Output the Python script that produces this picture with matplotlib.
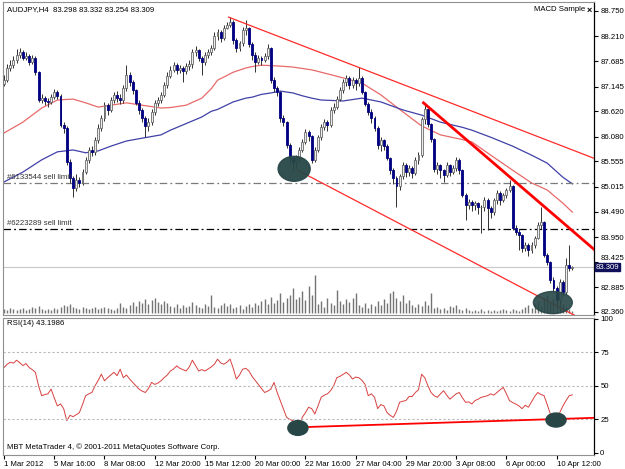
import matplotlib
matplotlib.use("Agg")
import matplotlib.pyplot as plt
import numpy as np
from matplotlib.patches import Ellipse

plt.rcParams['font.family'] = ['Liberation Sans', 'DejaVu Sans']

# ---- data ----
first_open = 87.20
closes = [
    87.28, 87.54, 87.60, 87.71, 87.82, 87.88, 87.75, 87.80, 87.67, 87.75,
    87.45, 86.86, 86.90, 86.84, 86.82, 86.92, 87.03, 86.95, 86.33, 86.27,
    85.54, 85.20, 84.99, 85.16, 85.10, 85.33, 85.59, 85.80, 85.76, 86.01,
    86.27, 86.48, 86.75, 86.65, 86.86, 86.97, 86.90, 86.86, 87.11, 87.39,
    87.24, 87.07, 86.80, 86.65, 86.48, 86.31, 86.39, 86.61, 86.80, 86.86,
    86.97, 87.18, 87.37, 87.50, 87.60, 87.50, 87.54, 87.48, 87.58, 87.62,
    87.88, 87.92, 87.75, 87.67, 87.82, 87.88, 87.96, 88.22, 88.30, 88.18,
    88.39, 88.45, 88.52, 88.13, 87.96, 88.07, 88.35, 88.39, 88.05, 87.82,
    87.67, 87.75, 87.71, 87.80, 87.96, 87.28, 87.11, 87.03, 86.48, 86.39,
    85.90, 85.63, 85.54, 85.63, 85.80, 85.97, 86.18, 86.10, 85.59, 85.80,
    86.07, 86.29, 86.39, 86.33, 86.65, 86.72, 86.89, 87.07, 87.24, 87.33,
    87.18, 87.28, 87.22, 87.33, 87.03, 86.78, 86.61, 86.48, 86.27, 85.90,
    86.01, 85.88, 85.63, 85.37, 85.20, 85.03, 85.24, 85.48, 85.33, 85.42,
    85.31, 85.59, 85.70, 86.45, 86.68, 86.35, 86.03, 85.40, 85.48, 85.37,
    85.27, 85.48, 85.33, 85.42, 85.59, 85.37, 84.84, 84.63, 84.70, 84.63,
    84.67, 84.58, 84.59, 84.74, 84.57, 84.48, 84.74, 84.89, 84.74, 84.84,
    84.95, 85.03, 84.14, 84.06, 83.99, 83.72, 83.78, 83.68, 83.78, 83.93,
    84.21, 84.27, 83.57, 83.42, 83.04, 82.87, 82.61, 83.00, 82.78, 83.36,
    83.298, 83.309,
]
highs = [
    87.40, 87.62, 87.70, 87.80, 87.95, 87.96, 87.92, 87.88, 87.84, 87.82,
    87.80, 87.48, 86.98, 86.95, 86.90, 86.98, 87.10, 87.08, 86.98, 86.40,
    86.30, 85.60, 85.25, 85.28, 85.22, 85.40, 85.66, 85.86, 85.88, 86.08,
    86.35, 86.55, 86.82, 86.80, 86.92, 87.02, 87.05, 86.98, 87.18, 87.60,
    87.45, 87.28, 87.10, 86.85, 86.70, 86.52, 86.48, 86.68, 86.86, 86.92,
    87.04, 87.24, 87.45, 87.58, 87.66, 87.64, 87.60, 87.58, 87.64, 87.70,
    87.95, 88.00, 87.94, 87.80, 87.88, 87.94, 88.02, 88.30, 88.36, 88.34,
    88.45, 88.52, 88.63, 88.55, 88.18, 88.12, 88.42, 88.55, 88.42, 88.10,
    87.88, 87.82, 87.80, 87.86, 88.05, 87.98, 87.35, 87.15, 87.05, 86.55,
    86.42, 85.95, 85.68, 85.70, 85.86, 86.03, 86.25, 86.22, 86.12, 85.86,
    86.12, 86.35, 86.45, 86.44, 86.72, 86.80, 86.95, 87.14, 87.30, 87.40,
    87.36, 87.34, 87.32, 87.56, 87.36, 87.05, 86.82, 86.66, 86.52, 86.30,
    86.08, 86.04, 85.92, 85.66, 85.42, 85.24, 85.30, 85.54, 85.52, 85.48,
    85.45, 85.64, 85.76, 86.50, 86.80, 86.70, 86.38, 86.05, 85.55, 85.50,
    85.40, 85.55, 85.50, 85.48, 85.64, 85.62, 85.40, 84.88, 84.76, 84.74,
    84.72, 84.70, 84.64, 84.80, 84.78, 84.60, 84.78, 84.94, 84.92, 84.88,
    85.00, 85.16, 85.06, 84.20, 84.12, 84.02, 83.84, 83.82, 83.84, 83.98,
    84.26, 84.59, 84.30, 83.62, 83.45, 83.10, 82.92, 83.05, 83.04, 83.50,
    83.78, 83.332,
]
lows = [
    87.15, 87.25, 87.48, 87.55, 87.65, 87.76, 87.70, 87.70, 87.60, 87.62,
    87.40, 86.82, 86.80, 86.75, 86.72, 86.78, 86.88, 86.88, 86.28, 86.15,
    85.48, 85.10, 84.80, 84.92, 85.02, 85.05, 85.28, 85.52, 85.68, 85.70,
    85.95, 86.20, 86.42, 86.55, 86.60, 86.80, 86.82, 86.78, 86.80, 87.05,
    87.15, 86.98, 86.75, 86.56, 86.40, 86.07, 86.20, 86.34, 86.55, 86.74,
    86.80, 86.92, 87.12, 87.32, 87.46, 87.42, 87.44, 87.25, 87.42, 87.50,
    87.55, 87.80, 87.68, 87.40, 87.60, 87.76, 87.82, 87.92, 88.14, 88.10,
    88.14, 88.36, 88.40, 88.05, 87.88, 87.90, 88.00, 88.25, 87.98, 87.72,
    87.45, 87.62, 87.60, 87.66, 87.74, 87.22, 87.02, 86.95, 86.40, 86.30,
    85.85, 85.50, 85.35, 85.42, 85.55, 85.76, 85.92, 85.98, 85.52, 85.55,
    85.76, 86.02, 86.22, 86.20, 86.28, 86.58, 86.66, 86.84, 87.00, 87.16,
    87.10, 87.12, 87.08, 87.15, 86.98, 86.74, 86.55, 86.38, 86.20, 85.82,
    85.78, 85.80, 85.58, 85.30, 85.08, 84.59, 84.95, 85.18, 85.22, 85.25,
    85.20, 85.26, 85.50, 85.65, 86.36, 86.28, 85.96, 85.34, 85.28, 85.20,
    85.12, 85.22, 85.25, 85.28, 85.36, 85.30, 84.80, 84.31, 84.55, 84.50,
    84.52, 84.45, 84.04, 84.50, 84.10, 84.35, 84.42, 84.66, 84.64, 84.70,
    84.78, 84.90, 84.10, 84.00, 83.68, 83.64, 83.66, 83.55, 83.62, 83.72,
    83.90, 84.12, 83.52, 83.36, 82.98, 82.80, 82.49, 82.55, 82.70, 82.74,
    83.22, 83.254,
]
# tick volume, in hundreds
volume = [
    4, 3, 5, 4, 3, 4, 5, 3, 4, 6,
    5, 7, 4, 3, 4, 3, 5, 4, 6, 8,
    7, 9, 6, 5, 4, 6, 5, 4, 5, 6,
    4, 5, 6, 5, 4, 3, 5, 10, 6, 5,
    8, 11, 7, 12, 10, 14, 9, 13, 15, 11,
    9, 12, 10, 7, 6, 9, 5, 8, 6, 7,
    11, 8, 6, 5, 9, 7, 18, 6, 5, 8,
    10, 7, 9, 5, 6, 8, 4, 7, 9, 6,
    10, 8, 12, 14, 9, 16, 10, 13, 20, 11,
    15, 18, 25, 14, 16, 22, 13, 27, 18, 38,
    9, 12, 6, 15, 10, 8, 23, 12, 9, 14,
    11, 15, 20, 8, 6, 10, 5, 9, 7, 12,
    8, 14, 10, 20, 22, 15, 12, 18, 10, 13,
    8, 6, 9, 7, 12, 8, 20, 5, 6, 4,
    5, 3, 7, 6, 8, 4, 3, 5, 3, 2,
    3, 2, 4, 2, 3, 2, 3, 2, 3, 4,
    3, 2, 4, 3, 2, 4, 6, 8, 5, 10,
    12, 7, 15, 18, 10, 14, 20, 12, 9, 6,
    4, 2,
]
rsi = [
    63.6, 66.0, 67.5, 66.8, 69.0, 67.2, 65.0, 66.5, 63.6, 62.0,
    60.0, 50.0, 42.6, 43.5, 44.0, 47.5, 41.0, 35.0, 36.5, 33.0,
    24.0, 28.0, 27.0, 28.5, 30.0, 36.0, 42.6, 44.0, 45.0, 50.0,
    54.0, 58.6, 53.7, 56.0, 58.0, 60.0, 57.5, 62.3, 56.0, 58.0,
    55.0, 52.5, 50.0, 47.5, 46.0, 45.0, 48.0, 52.5, 51.0, 52.0,
    53.7, 56.0, 58.0, 61.0, 62.5, 64.8, 63.0, 62.0, 61.0, 64.0,
    69.0, 65.0, 61.0, 62.0, 61.0, 62.5, 64.0, 66.0, 69.8, 67.0,
    66.0, 67.5, 69.8, 63.0, 55.0, 58.0, 62.3, 63.0, 61.0, 57.0,
    54.0, 51.0, 48.0, 45.0, 46.0, 47.5, 52.5, 45.0, 38.9, 33.0,
    26.5, 25.0, 24.0, 22.0, 20.0, 26.5, 30.0, 34.0, 33.0, 29.0,
    35.0, 41.4, 43.0, 44.0, 46.3, 50.0, 56.0, 57.0, 58.5, 60.0,
    58.0, 55.0, 56.5, 56.0, 54.0, 51.0, 42.6, 44.0, 41.4, 33.0,
    36.0, 35.0, 30.0, 28.0, 26.5, 31.0, 37.7, 38.5, 39.0, 42.0,
    42.0, 45.0, 47.0, 58.6, 56.0, 50.0, 45.0, 42.6, 41.4, 44.0,
    46.3, 43.0, 40.0, 42.0, 44.0, 45.0, 41.0, 37.7, 38.0, 36.5,
    39.0, 40.0, 41.4, 42.0, 42.6, 44.0, 43.0, 45.0, 47.0, 48.8,
    44.0, 38.9, 37.5, 36.4, 35.0, 33.0, 35.5, 34.0, 38.0, 42.0,
    45.0, 43.5, 42.6, 36.0, 29.0, 28.0, 26.5, 30.0, 35.0, 39.0,
    42.6, 43.2,
]
# moving averages, sampled at bar positions
ma_bars = [0, 6, 12, 17, 22, 26, 30, 34, 39, 44, 50, 53, 58, 63, 66, 68, 73, 77,
           79, 82, 85, 88, 92, 95, 98, 101, 108, 114, 120, 127, 133, 139, 146,
           149, 155, 162, 168, 173, 178, 181]
ma_red = [86.16, 86.39, 86.69, 86.86, 86.88, 86.80, 86.71, 86.75, 86.80, 86.75,
          86.69, 86.70, 86.75, 86.90, 87.10, 87.28, 87.45, 87.54, 87.57, 87.60,
          87.59, 87.58, 87.56, 87.53, 87.50, 87.45, 87.33, 87.22, 86.97, 86.61,
          86.31, 86.12, 86.02, 85.97, 85.69, 85.37, 85.10, 84.95, 84.67, 84.48]
ma_blue = [85.12, 85.33, 85.59, 85.76, 85.80, 85.74, 85.78, 85.88, 85.99, 86.05,
           86.12, 86.22, 86.36, 86.50, 86.62, 86.66, 86.82, 86.90, 86.92, 86.98,
           87.01, 87.05, 87.01, 86.95, 86.90, 86.86, 86.84, 86.90, 86.82, 86.65,
           86.54, 86.39, 86.28, 86.22, 86.07, 85.88, 85.69, 85.52, 85.22, 85.08]

price_ticks = [88.750, 88.210, 87.685, 87.145, 86.620, 86.080, 85.555,
               85.015, 84.490, 83.950, 83.425, 82.885, 82.360]
time_labels = ['1 Mar 2012', '5 Mar 16:00', '8 Mar 08:00', '12 Mar 20:00',
               '15 Mar 12:00', '20 Mar 00:00', '22 Mar 16:00', '27 Mar 04:00',
               '29 Mar 20:00', '3 Apr 08:00', '6 Apr 00:00', '10 Apr 12:00']

sell_limits = [(85.10, '#6133544 sell limit'), (84.13, '#6223289 sell limit')]
bid = 83.309
upper_channel = ([71.5, 195], [88.62, 85.44])
lower_channel = ([93.5, 182], [85.37, 82.28])
steep_line = ([133.6, 190], [86.80, 83.57])
rsi_line = ([93.6, 190], [19.1, 26.3])

W, H = 625, 469
FS = 5.6


def frac(x0, y0, x1, y1):
    return [x0 / W, 1 - y1 / H, (x1 - x0) / W, (y1 - y0) / H]


fig = plt.figure(figsize=(6.25, 4.69), dpi=100)
ax = fig.add_axes(frac(3, 2, 594, 315))
axr = fig.add_axes(frac(3, 318, 594, 455), sharex=ax)

n = len(closes)
x = np.arange(n)
opens = np.array([first_open] + closes[:-1])
closes_a = np.array(closes)

# volume histogram at the bottom of the price window
ax.vlines(x, 2 / 313, (2 + np.array(volume)) / 313, color='#747474', lw=1.0,
          transform=ax.get_xaxis_transform(), zorder=1)

# candles
bull = closes_a >= opens
ax.vlines(x, lows, highs, color='#303030', lw=0.7, zorder=3)
body_lo = np.minimum(opens, closes_a)
body_h = np.maximum(np.abs(closes_a - opens), 0.012)
ax.bar(x[bull], body_h[bull], bottom=body_lo[bull], width=0.62,
       color='#ececec', edgecolor='#6a6a6a', lw=0.6, zorder=4)
ax.bar(x[~bull], body_h[~bull], bottom=body_lo[~bull], width=0.62,
       color='#000080', edgecolor='#000080', lw=0.6, zorder=4)

# moving averages
ax.plot(ma_bars, ma_red, color='#e86a6a', lw=0.9, zorder=2)
ax.plot(ma_bars, ma_blue, color='#4040a8', lw=0.9, zorder=2)

# trend lines
ax.plot(*upper_channel, color='#ff2a2a', lw=0.9, zorder=5)
ax.plot(*lower_channel, color='#ff2a2a', lw=0.9, zorder=5)
ax.plot(*steep_line, color='#ff0000', lw=2.0, zorder=5)

# pending orders and bid line
dash = (0, (6, 2.5, 1.5, 2.5))
ax.axhline(sell_limits[0][0], color='#7a7a7a', lw=0.9, ls=dash, zorder=2)
ax.axhline(sell_limits[1][0], color='#000000', lw=0.9, ls=dash, zorder=2)
for price, label in sell_limits:
    ax.text(1, price + 0.04, label, fontsize=FS, color='#333333', va='bottom',
            ha='left', zorder=6)
ax.axhline(bid, color='#c8c8c8', lw=0.8, zorder=1)

# highlighted lows
ax.add_patch(Ellipse((92.4, 85.40), 10.2, 0.53, color='#284646', alpha=0.95, zorder=6))
ax.add_patch(Ellipse((174.8, 82.56), 12.4, 0.47, color='#284646', alpha=0.9, zorder=6))

ax.set_xlim(-0.32, 187.9)
ax.set_ylim(82.296, 88.941)
ax.yaxis.tick_right()
ax.set_yticks(price_ticks)
ax.set_yticklabels([f'{p:.3f}' for p in price_ticks])
ax.tick_params(axis='y', direction='out', length=3, width=0.8, pad=1.5,
               labelsize=FS, colors='black')
# the bid box sits just under this label, as in the terminal
for lab in ax.get_yticklabels():
    if lab.get_text() == '83.425':
        lab.set_verticalalignment('bottom')
ax.tick_params(axis='x', bottom=False, labelbottom=False)
ax.text(0.006, 0.988, 'AUDJPY,H4  83.298 83.332 83.254 83.309', transform=ax.transAxes,
        fontsize=FS, va='top', ha='left')
ax.text(0.985, 0.988, 'MACD Sample', transform=ax.transAxes, fontsize=FS,
        va='top', ha='right')
ax.text(0.997, 0.988, '\u00d7', transform=ax.transAxes, fontsize=6.5,
        fontweight='bold', va='top', ha='right')
ax.text(1.003, bid, f'{bid:.3f}', transform=ax.get_yaxis_transform(), fontsize=FS,
        color='white', va='center', ha='left', zorder=10, clip_on=False,
        bbox=dict(boxstyle='square,pad=0.08', fc='#10105a', ec='#10105a'))

# RSI window
axr.plot(x, rsi, color='#d84040', lw=0.7)
for lvl in (25, 50, 75):
    axr.axhline(lvl, color='#b8b8b8', lw=0.8, ls=(0, (2, 2)))
axr.plot(*rsi_line, color='#ff0000', lw=1.3, zorder=5)
axr.add_patch(Ellipse((93.6, 18.6), 6.4, 11, color='#284646', zorder=6))
axr.add_patch(Ellipse((175.8, 24.5), 6.4, 10.4, color='#284646', zorder=6))
axr.set_ylim(-1.5, 100.4)
axr.yaxis.tick_right()
axr.set_yticks([0, 25, 50, 75, 100])
axr.tick_params(axis='y', direction='out', length=3, width=0.8, pad=1.5, labelsize=FS)
axr.set_xticks(np.arange(0, n, 16))
axr.set_xticklabels(time_labels)
for lab in axr.get_xticklabels():
    lab.set_horizontalalignment('left')
axr.tick_params(axis='x', direction='out', length=3, width=0.8, pad=1.5, labelsize=FS)
axr.text(0.006, 0.985, 'RSI(14) 43.1986', transform=axr.transAxes, fontsize=FS,
         va='top', ha='left')
axr.text(0.006, 0.03, 'MBT MetaTrader 4, \u00a9 2001-2011 MetaQuotes Software Corp.',
         transform=axr.transAxes, fontsize=FS, va='bottom', ha='left')

for a in (ax, axr):
    for side in ('left', 'top', 'bottom'):
        a.spines[side].set_color('#909090')
        a.spines[side].set_linewidth(0.8)
    a.spines['right'].set_color('black')
    a.spines['right'].set_linewidth(0.9)

fig.savefig('out.png', dpi=100)
